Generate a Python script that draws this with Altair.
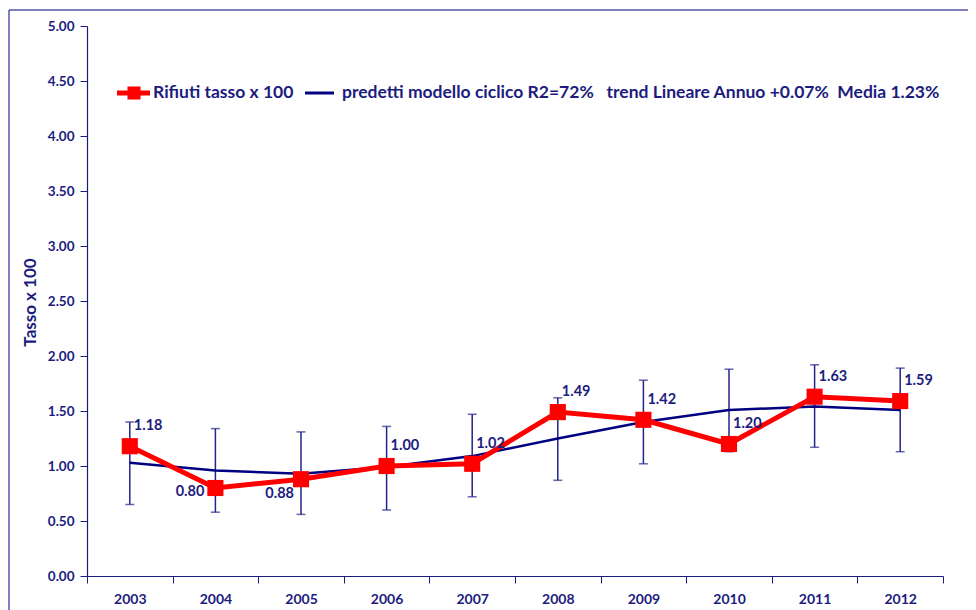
import altair as alt
import pandas as pd

# ---- data ----
years = ["2003", "2004", "2005", "2006", "2007", "2008", "2009", "2010", "2011", "2012"]
rifiuti = [1.18, 0.80, 0.88, 1.00, 1.02, 1.49, 1.42, 1.20, 1.63, 1.59]
predetti = [1.03, 0.96, 0.93, 0.99, 1.09, 1.25, 1.40, 1.51, 1.54, 1.51]
ci_low = [0.65, 0.58, 0.56, 0.60, 0.72, 0.87, 1.02, 1.13, 1.17, 1.13]
ci_high = [1.40, 1.34, 1.31, 1.36, 1.47, 1.62, 1.78, 1.88, 1.92, 1.89]
y_ticks = [0.0, 0.5, 1.0, 1.5, 2.0, 2.5, 3.0, 3.5, 4.0, 4.5, 5.0]

NB = "\u00a0"
legend_red = "Rifiuti tasso x 100"
legend_blue = ("predetti modello ciclico R2=72%" + NB * 3 + "trend Lineare Annuo +0.07%"
               + NB * 2 + "Media 1.23%")
y_title = "Tasso x 100"

df = pd.DataFrame({
    "anno": years,
    "rifiuti": rifiuti,
    "predetti": predetti,
    "lo": ci_low,
    "hi": ci_high,
})
df["lab"] = [f"{v:.2f}" for v in rifiuti]

NAVY = "#1c1c7e"
LINE_NAVY = "#000080"
RED = "#ff0000"
FONT = "Lato"
W, H = 856, 550

xs = alt.Scale(type="band", paddingInner=0, paddingOuter=0)
ys = alt.Scale(domain=[0, 5], nice=False, zero=True)

x_axis = alt.Axis(title=None, labelAngle=0, tickBand="extent", grid=False,
                  labelFont=FONT, labelFontSize=14, labelFontWeight="bold",
                  labelColor=NAVY, domainColor=NAVY, tickColor=NAVY,
                  tickSize=7, labelPadding=9, domainWidth=1.2)
y_axis = alt.Axis(values=y_ticks, format=".2f", grid=False, title=y_title,
                  labelFont=FONT, labelFontSize=13.5, labelFontWeight="bold",
                  labelColor=NAVY, domainColor=NAVY, tickColor=NAVY,
                  tickSize=7, labelPadding=6, domainWidth=1.2,
                  titleFont=FONT, titleFontSize=17, titleFontWeight="bold",
                  titleColor=NAVY, titleX=-57, titleY=276, titleBaseline="middle")

base = alt.Chart(df)
X = alt.X("anno:N", scale=xs, axis=x_axis, sort=years)

ERR = "#23238a"
err = base.mark_rule(color=ERR, strokeWidth=1.5).encode(
    x=X, y=alt.Y("lo:Q", scale=ys, axis=y_axis), y2="hi:Q")
cap_lo = base.mark_tick(color=ERR, size=9, thickness=1.5).encode(
    x=X, y=alt.Y("lo:Q", scale=ys))
cap_hi = base.mark_tick(color=ERR, size=9, thickness=1.5).encode(
    x=X, y=alt.Y("hi:Q", scale=ys))
blue = base.mark_line(color=LINE_NAVY, strokeWidth=2.5).encode(
    x=X, y=alt.Y("predetti:Q", scale=ys))
red = base.mark_line(color=RED, strokeWidth=5).encode(
    x=X, y=alt.Y("rifiuti:Q", scale=ys))
red_pts = base.mark_square(color=RED, size=260, opacity=1).encode(
    x=X, y=alt.Y("rifiuti:Q", scale=ys))

lab_style = dict(font=FONT, fontSize=14.5, fontWeight="bold", color=NAVY, baseline="middle")
labels_main = base.transform_filter(
    alt.FieldOneOfPredicate(field="anno", oneOf=["2003", "2006", "2007", "2008", "2009", "2010", "2011", "2012"])
).mark_text(align="left", dx=4, dy=-20, **lab_style).encode(
    x=X, y=alt.Y("rifiuti:Q", scale=ys), text="lab:N")
labels_2004 = base.transform_filter(alt.datum.anno == "2004").mark_text(
    align="right", dx=-11, dy=4, **lab_style).encode(
    x=X, y=alt.Y("rifiuti:Q", scale=ys), text="lab:N")
labels_2005 = base.transform_filter(alt.datum.anno == "2005").mark_text(
    align="right", dx=-7, dy=15, **lab_style).encode(
    x=X, y=alt.Y("rifiuti:Q", scale=ys), text="lab:N")

one = alt.Chart(pd.DataFrame({"k": [0]}))
leg_red_line = one.mark_rule(color=RED, strokeWidth=5).encode(
    x=alt.value(30), x2=alt.value(63), y=alt.value(67))
leg_red_sq = one.mark_square(color=RED, size=170, opacity=1).encode(
    x=alt.value(47), y=alt.value(67))
leg_red_txt = one.mark_text(align="left", baseline="middle", font=FONT, fontSize=17.5,
                            fontWeight="bold", color=NAVY).encode(
    x=alt.value(66), y=alt.value(67), text=alt.value(legend_red))
leg_blue_line = one.mark_rule(color=LINE_NAVY, strokeWidth=3).encode(
    x=alt.value(218), x2=alt.value(247), y=alt.value(67))
leg_blue_txt = one.mark_text(align="left", baseline="middle", font=FONT, fontSize=17.5,
                             fontWeight="bold", color=NAVY).encode(
    x=alt.value(255), y=alt.value(67), text=alt.value(legend_blue))

frame = one.mark_rect(fillOpacity=0, stroke=LINE_NAVY, strokeWidth=1).encode(
    x=alt.value(-78), x2=alt.value(W + 200), y=alt.value(-16), y2=alt.value(H + 200))

chart = alt.layer(
    frame, err, cap_lo, cap_hi, blue, red, red_pts,
    labels_main, labels_2004, labels_2005,
    leg_red_line, leg_red_sq, leg_red_txt, leg_blue_line, leg_blue_txt,
).properties(
    width=W, height=H,
    autosize=alt.AutoSizeParams(type="none"),
    padding={"left": 79, "top": 18, "right": 25, "bottom": 40},
    background="white",
).configure_view(strokeWidth=0)

chart.save("out.html", embed_options={"renderer": "svg", "actions": False})
